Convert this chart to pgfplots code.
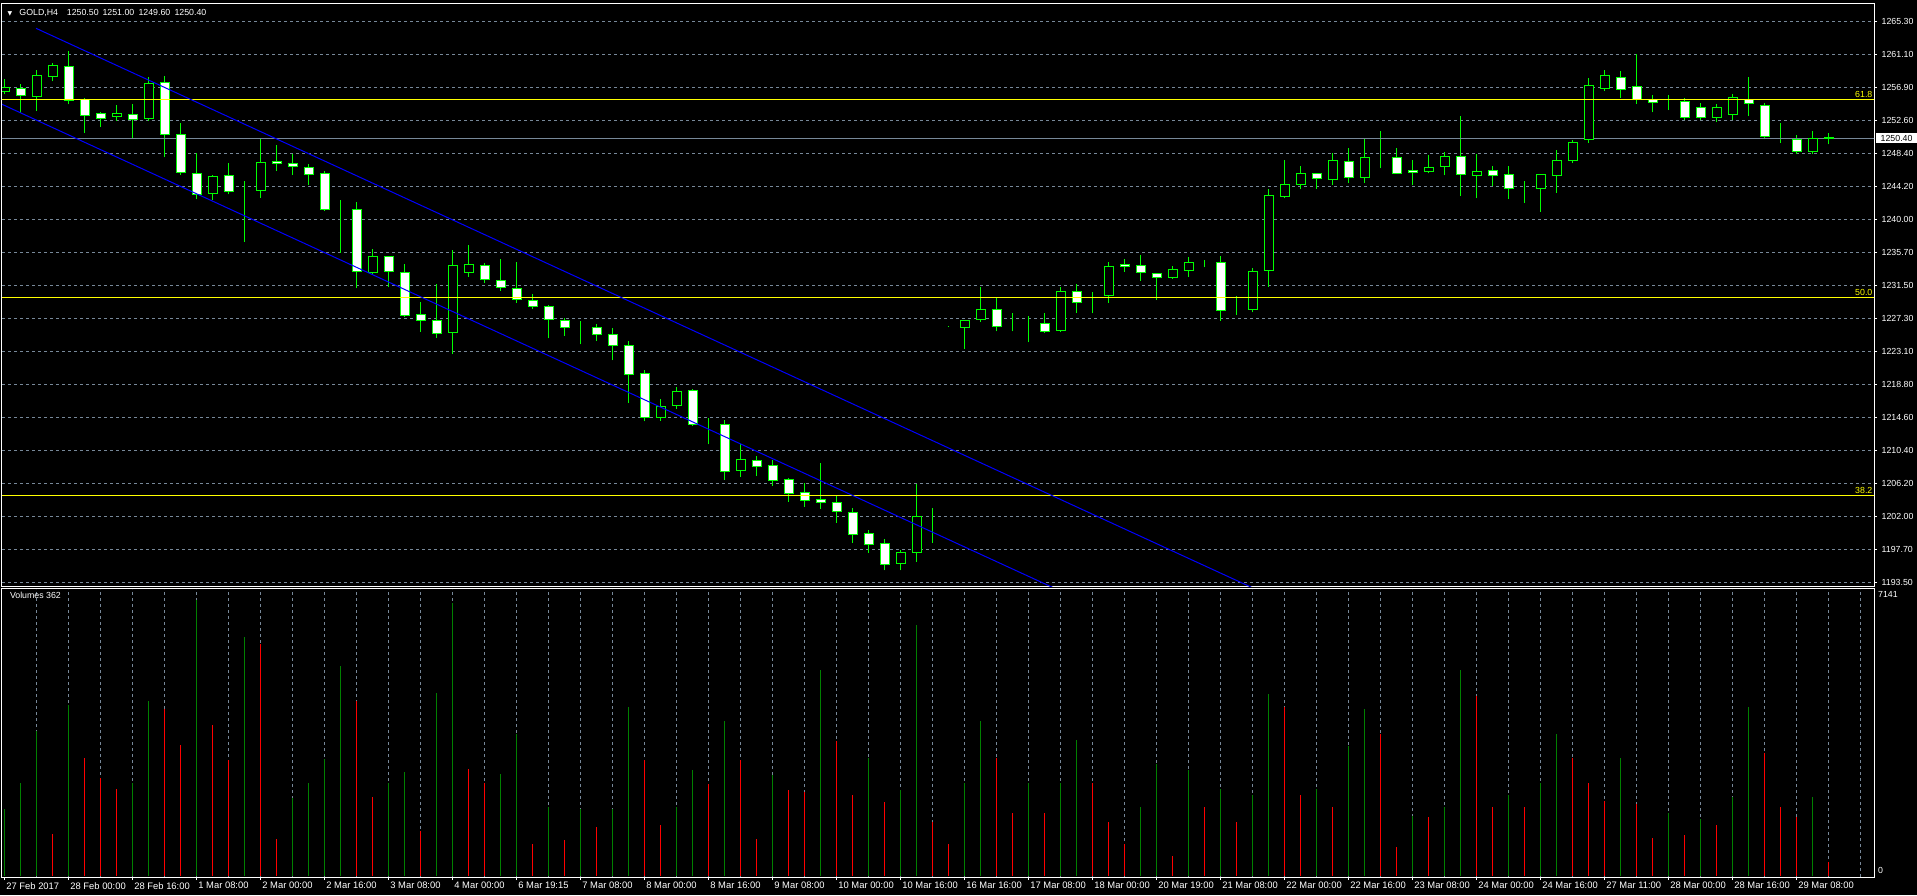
\documentclass[border=0pt]{standalone}
\usepackage{pgfplots}
\pgfplotsset{compat=1.18}
\usepackage{pgfplotstable}
\usepackage{fontspec}
\setmainfont{Liberation Sans}
\newfontfamily\symfont{DejaVu Sans}

\definecolor{mtlime}{HTML}{00FF00}
\definecolor{mtgrid}{HTML}{778899}
\definecolor{volgreen}{HTML}{008000}
\definecolor{volred}{HTML}{FF0000}
\definecolor{fibyellow}{HTML}{FFFF00}
\definecolor{chanblue}{HTML}{0000FF}

% GOLD, H4 bars: index, open, high, low, close
\pgfplotstableread{
k o h l c
0 1256.34 1257.92 1256.00 1256.90
1 1256.77 1257.28 1253.66 1255.83
2 1255.70 1259.12 1253.91 1258.44
3 1258.31 1260.01 1257.67 1259.72
4 1259.59 1261.51 1254.72 1255.24
5 1255.36 1255.49 1251.09 1253.31
6 1253.57 1253.78 1251.86 1252.93
7 1253.14 1254.64 1252.63 1253.57
8 1253.44 1254.77 1250.33 1252.76
9 1252.89 1258.18 1252.63 1257.41
10 1257.54 1258.35 1247.94 1250.88
11 1250.88 1252.29 1245.72 1246.02
12 1245.89 1248.45 1242.56 1243.20
13 1243.33 1245.67 1242.47 1245.50
14 1245.63 1247.17 1243.20 1243.63
15 1243.58 1244.91 1237.14 1243.58
16 1243.71 1250.45 1242.77 1247.30
17 1247.38 1249.50 1246.22 1247.16
18 1247.16 1248.36 1245.67 1246.78
19 1246.65 1247.08 1244.43 1245.75
20 1245.88 1246.22 1241.10 1241.27
21 1241.27 1242.47 1235.72 1241.27
22 1241.27 1242.17 1231.16 1233.33
23 1233.21 1236.15 1232.99 1235.26
24 1235.26 1235.30 1231.29 1233.33
25 1233.21 1234.23 1227.53 1227.70
26 1227.83 1229.37 1225.61 1227.06
27 1227.06 1231.71 1224.84 1225.40
28 1225.52 1236.07 1222.75 1234.10
29 1233.21 1236.71 1232.65 1234.23
30 1234.10 1234.44 1231.80 1232.31
31 1232.18 1234.87 1230.86 1231.29
32 1231.16 1234.49 1229.32 1229.75
33 1229.60 1230.50 1228.52 1228.86
34 1228.86 1229.00 1224.76 1227.19
35 1227.07 1227.32 1225.10 1226.17
36 1226.08 1227.02 1223.99 1226.08
37 1226.13 1226.55 1224.46 1225.27
38 1225.23 1226.13 1221.94 1223.87
39 1223.82 1224.38 1216.52 1220.15
40 1220.28 1220.66 1214.13 1214.65
41 1214.65 1217.00 1214.22 1216.06
42 1216.18 1218.49 1215.76 1217.98
43 1218.10 1218.27 1213.54 1213.75
44 1213.75 1214.60 1211.19 1213.75
45 1213.75 1214.31 1206.66 1207.73
46 1207.86 1211.19 1207.05 1209.27
47 1209.14 1209.70 1207.14 1208.37
48 1208.50 1209.14 1205.90 1206.58
49 1206.71 1206.96 1203.85 1204.92
50 1205.04 1206.32 1203.21 1204.02
51 1204.15 1208.88 1202.95 1203.76
52 1203.76 1204.62 1201.20 1202.61
53 1202.48 1203.12 1198.60 1199.67
54 1199.79 1200.18 1197.36 1198.39
55 1198.51 1199.11 1195.06 1195.82
56 1195.95 1197.66 1195.06 1197.36
57 1197.36 1206.11 1196.17 1201.97
58 1202.14 1203.00 1198.60 1202.14
59 1226.26 1226.30 1226.20 1226.26
60 1226.17 1227.07 1223.35 1227.07
61 1227.19 1231.30 1226.90 1228.47
62 1228.47 1230.01 1225.66 1226.30
63 1226.26 1227.96 1225.66 1226.26
64 1226.51 1227.58 1224.25 1226.51
65 1226.68 1227.96 1225.50 1225.66
66 1225.78 1231.37 1225.61 1230.77
67 1230.77 1231.71 1228.04 1229.36
68 1229.36 1230.64 1227.96 1229.36
69 1230.26 1234.49 1229.32 1233.97
70 1234.23 1234.91 1233.29 1233.97
71 1234.10 1235.42 1232.14 1233.16
72 1233.08 1233.08 1229.66 1232.57
73 1232.52 1233.97 1232.39 1233.59
74 1233.46 1235.21 1232.65 1234.49
75 1234.61 1234.83 1233.84 1234.61
76 1234.49 1235.30 1227.02 1228.34
77 1228.47 1230.17 1227.78 1228.47
78 1228.47 1233.72 1228.08 1233.33
79 1233.46 1243.83 1231.37 1243.06
80 1242.94 1247.59 1242.68 1244.47
81 1244.47 1246.82 1243.83 1245.88
82 1245.88 1245.88 1243.92 1245.24
83 1245.07 1248.44 1244.43 1247.55
84 1247.42 1249.12 1244.69 1245.37
85 1245.37 1250.36 1244.69 1247.93
86 1247.80 1251.34 1246.52 1247.80
87 1247.93 1249.12 1245.88 1245.88
88 1246.26 1247.55 1244.35 1246.01
89 1246.14 1248.23 1245.88 1246.65
90 1246.78 1248.57 1245.62 1248.06
91 1248.06 1253.22 1242.98 1245.75
92 1245.62 1248.31 1242.68 1246.14
93 1246.26 1246.82 1244.22 1245.62
94 1245.75 1246.78 1242.64 1243.92
95 1243.96 1244.90 1242.13 1243.96
96 1243.92 1245.75 1240.97 1245.75
97 1245.62 1248.83 1243.41 1247.55
98 1247.57 1250.20 1247.20 1249.90
99 1250.20 1258.06 1249.80 1257.12
100 1256.81 1259.16 1256.40 1258.37
101 1258.22 1259.00 1255.56 1256.65
102 1256.97 1261.19 1254.77 1255.40
103 1255.40 1255.87 1253.68 1254.93
104 1255.24 1255.87 1253.99 1255.24
105 1255.09 1255.56 1252.74 1253.05
106 1254.30 1254.93 1252.74 1253.05
107 1253.05 1254.77 1252.43 1254.30
108 1253.37 1256.03 1252.74 1255.56
109 1255.40 1258.22 1253.21 1254.77
110 1254.62 1254.93 1250.23 1250.55
111 1250.23 1252.27 1249.76 1250.23
112 1250.23 1250.86 1248.36 1248.67
113 1248.67 1251.33 1248.36 1250.39
114 1250.50 1251.00 1249.60 1250.40
}\candles

% tick volumes; up = 1 when the volume is above the previous bar's
\pgfplotstableread{
k v up
0 1657 1
1 2326 1
2 3604 1
3 1049 0
4 4243 1
5 2935 0
6 2448 0
7 2174 0
8 2326 1
9 4364 1
10 4151 0
11 3269 0
12 6859 1
13 3756 0
14 2874 0
15 5946 1
16 5764 0
17 927 0
18 1931 1
19 2326 1
20 2904 1
21 5216 1
22 4364 0
23 1961 0
24 2326 1
25 2600 1
26 1109 0
27 4547 1
28 6798 1
29 2661 0
30 2326 0
31 2539 1
32 3543 1
33 805 0
34 1718 1
35 896 0
36 1657 1
37 1231 0
38 1657 1
39 4212 1
40 2874 0
41 1261 0
42 1718 1
43 2630 1
44 2296 0
45 3847 1
46 2874 0
47 927 0
48 2509 1
49 2144 0
50 2083 0
51 5125 1
52 3360 0
53 2022 0
54 2935 1
55 1839 0
56 2144 1
57 6250 1
58 1353 0
59 805 0
60 2326 1
61 3847 1
62 2935 0
63 1566 0
64 2326 1
65 1566 0
66 2326 1
67 3391 1
68 2326 0
69 1353 0
70 805 0
71 1718 1
72 2782 1
73 501 0
74 2630 1
75 1718 0
76 2174 1
77 1353 0
78 2022 1
79 4516 1
80 4212 0
81 2022 0
82 2174 1
83 1718 0
84 3239 1
85 4151 1
86 3543 0
87 714 0
88 1505 1
89 1475 0
90 1718 1
91 5125 1
92 4486 0
93 1718 0
94 2022 1
95 1718 0
96 2326 1
97 3543 1
98 2935 0
99 2326 0
100 1870 0
101 2935 1
102 1779 0
103 957 0
104 1566 1
105 1018 0
106 1414 1
107 1261 0
108 1961 1
109 4212 1
110 3056 0
111 1718 0
112 1475 0
113 1961 1
114 349 0
}\volumes

\pgfplotsset{
  mtpanel/.style={scale only axis, anchor=south west, width=1872pt,
    xmin=-0.16875, xmax=116.83},
  pricepanel/.style={mtpanel, at={(2pt,308pt)}, height=583pt,
    ymin=1192.946, ymax=1267.565},
  mtgridstyle/.style={grid style={mtgrid, line width=1pt, dash pattern=on 3pt off 3pt}},
}

\begin{document}
\begin{tikzpicture}[font=\fontsize{8.8pt}{10pt}\selectfont]
\path[use as bounding box] (0,0) rectangle (1917pt,895pt);
\fill[black] (0,0) rectangle (1917pt,895pt);

% price window: grid, price scale, wicks
\begin{axis}[pricepanel, mtgridstyle,
  axis line style={white, line width=1pt},
  xtick=\empty, minor xtick={2,4,...,116}, xminorgrids,
  ytick={1193.50,1197.72,1201.95,1206.17,1210.39,1214.62,1218.84,1223.06,1227.29,
         1231.51,1235.74,1239.96,1244.18,1248.41,1252.63,1256.85,1261.08,1265.30},
  yticklabels={1193.50,1197.70,1202.00,1206.20,1210.40,1214.60,1218.80,1223.10,1227.30,
         1231.50,1235.70,1240.00,1244.20,1248.40,1252.60,1256.90,1261.10,1265.30},
  ymajorgrids,
  ytick pos=right, yticklabel pos=right, tick align=outside,
  major tick length=3pt, minor tick length=0pt,
  tick style={white, line width=1pt},
  yticklabel style={text=white, anchor=west, inner sep=0pt, xshift=4.5pt},
]
\addplot[draw=none, mark=none, forget plot,
  error bars/.cd, y dir=plus, y explicit, error mark=none,
  error bar style={draw=mtlime, line width=1pt, solid}]
  table[x=k, y=l, y error plus expr={\thisrow{h}-\thisrow{l}}] {\candles};
\addplot[mtgrid, line width=1pt] coordinates {(-1,1250.40) (118,1250.40)};
\end{axis}

% candle bodies: white = bearish, black = bullish
\begin{axis}[pricepanel, hide axis, ybar stacked, bar width=0.5625]
\addplot[draw=none, fill=none] table[x=k, y expr={min(\thisrow{o},\thisrow{c})}] {\candles};
\addplot[draw=mtlime, fill=black, line width=1pt] table[x=k, y expr={max(\thisrow{c}-\thisrow{o},0)}] {\candles};
\addplot[draw=mtlime, fill=white, line width=1pt] table[x=k, y expr={max(\thisrow{o}-\thisrow{c},0)}] {\candles};
\end{axis}

% Fibonacci levels, channel, price tag
\begin{axis}[pricepanel, hide axis, clip mode=individual]
\addplot[fibyellow, line width=1pt] coordinates {(-1,1255.37) (118,1255.37)};
\addplot[fibyellow, line width=1pt] coordinates {(-1,1230.01) (118,1230.01)};
\addplot[fibyellow, line width=1pt] coordinates {(-1,1204.66) (118,1204.66)};
\addplot[chanblue, line width=1pt] coordinates {(1.956,1264.455) (80,1190.95)};
\addplot[chanblue, line width=1pt] coordinates {(-1,1255.51) (70,1188.65)};
\node[anchor=south east, inner sep=0pt, text=fibyellow, yshift=1.5pt] at (axis cs:116.74,1255.37) {61.8};
\node[anchor=south east, inner sep=0pt, text=fibyellow, yshift=1.5pt] at (axis cs:116.74,1230.01) {50.0};
\node[anchor=south east, inner sep=0pt, text=fibyellow, yshift=1.5pt] at (axis cs:116.74,1204.66) {38.2};
\node[anchor=west, fill=white, text=black, inner xsep=4.5pt, inner ysep=1.5pt, xshift=2pt] at (axis cs:116.83,1250.40) {1250.40};
\end{axis}

% volume window
\begin{axis}[mtpanel, mtgridstyle, at={(2pt,18pt)}, height=288pt, ymin=-25, ymax=7141,
  axis line style={white, line width=1pt},
  xtick={0,4,...,112},
  xticklabels={27 Feb 2017,28 Feb 00:00,28 Feb 16:00,1 Mar 08:00,2 Mar 00:00,2 Mar 16:00,
    3 Mar 08:00,4 Mar 00:00,6 Mar 19:15,7 Mar 08:00,8 Mar 00:00,8 Mar 16:00,9 Mar 08:00,
    10 Mar 00:00,10 Mar 16:00,16 Mar 16:00,17 Mar 08:00,18 Mar 00:00,20 Mar 19:00,
    21 Mar 08:00,22 Mar 00:00,22 Mar 16:00,23 Mar 08:00,24 Mar 00:00,24 Mar 16:00,
    27 Mar 11:00,28 Mar 00:00,28 Mar 16:00,29 Mar 08:00},
  minor xtick={2,4,...,116}, xminorgrids,
  xtick pos=bottom, tick align=outside, major tick length=3pt, minor tick length=0pt,
  tick style={white, line width=1pt},
  xticklabel style={text=white, anchor=north west, inner sep=0pt, xshift=1.5pt, yshift=-2pt,
    font=\fontsize{9.4pt}{11pt}\selectfont},
  ytick={132,7009}, yticklabels={0,7141}, ytick pos=right, yticklabel pos=right,
  ytick style={draw=none},
  yticklabel style={text=white, anchor=west, inner sep=0pt, xshift=1pt},
]
\addplot[ycomb, volgreen, line width=1.4pt] table[x=k, y expr={\thisrow{v}*\thisrow{up}}] {\volumes};
\addplot[ycomb, volred, line width=1.4pt] table[x=k, y expr={\thisrow{v}*(1-\thisrow{up})}] {\volumes};
\end{axis}

% window captions
\node[anchor=base west, inner sep=0pt, text=white] at (7.5pt,879.2pt) {{\symfont\fontsize{6pt}{7pt}\selectfont ▼}};
\node[anchor=base west, inner sep=0pt, text=white] at (19.3pt,879.2pt) {GOLD,H4};
\node[anchor=base west, inner sep=0pt, text=white] at (66.7pt,879.2pt) {1250.50};
\node[anchor=base west, inner sep=0pt, text=white] at (102.3pt,879.2pt) {1251.00};
\node[anchor=base west, inner sep=0pt, text=white] at (138.3pt,879.2pt) {1249.60};
\node[anchor=base west, inner sep=0pt, text=white] at (174.3pt,879.2pt) {1250.40};
\node[anchor=base west, inner sep=0pt, text=white] at (9.8pt,296.4pt) {Volumes 362};
\end{tikzpicture}
\end{document}
